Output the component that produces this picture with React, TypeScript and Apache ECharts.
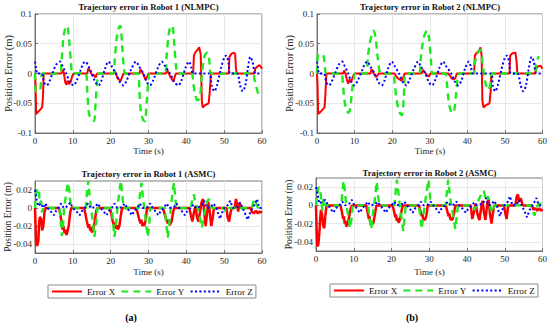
import React, { useEffect, useRef } from "react";
import * as echarts from "echarts";

const FONT = '"Liberation Serif", "Times New Roman", serif';

const seriesNames = ["Error X", "Error Y", "Error Z"];
const panelTitles = [
  "Trajectory error in Robot 1 (NLMPC)",
  "Trajectory error in Robot 2 (NLMPC)",
  "Trajectory error in Robot 1 (ASMC)",
  "Trajectory error in Robot 2 (ASMC)",
];
const timeTicks = [0, 10, 20, 30, 40, 50, 60];
const nlmpcYTicks = [-0.1, -0.05, 0, 0.05, 0.1];
const asmcYTicks = [-0.04, -0.02, 0, 0.02];
const captions = ["(a)", "(b)"];

// Robot 1 NLMPC
const r1nX = [
  [0, 0], [0.15, -0.02], [0.3, -0.068], [0.6, -0.066], [1.2, -0.062], [1.9, -0.057], [2.1, -0.04], [2.3, 0],
  [7, 0], [7.3, 0.006], [7.6, 0.002], [8, -0.015], [8.3, -0.019], [8.6, -0.012], [9, -0.018], [9.4, -0.015], [9.8, -0.005], [10.2, 0],
  [13.8, 0], [14.1, 0.009], [14.5, 0.005], [14.8, 0.001], [15.2, -0.004], [15.6, -0.002], [16, -0.007], [16.4, 0],
  [20.8, 0], [21, 0.004], [21.4, 0], [21.8, -0.008], [22.2, -0.01], [22.6, -0.013], [23, -0.006], [23.4, 0],
  [27.6, 0], [27.9, 0.007], [28.3, 0.003], [28.8, -0.004], [29.2, -0.01], [29.6, -0.006], [30, 0],
  [34.6, 0], [34.9, 0.006], [35.3, 0.001], [35.8, -0.006], [36.2, -0.01], [36.6, -0.013], [37, -0.004], [37.3, 0],
  [41.8, 0], [42, 0.03], [42.4, 0.036], [43, 0.04], [43.4, 0.044], [43.8, 0.032], [44.1, -0.045], [44.3, -0.057], [45, -0.053], [45.9, -0.05], [46.2, -0.03], [46.5, 0],
  [51.2, 0], [51.4, 0.028], [51.9, 0.033], [52.6, 0.035], [52.9, 0.033], [53.1, 0.01], [53.3, 0],
  [58, 0], [58.2, 0.008], [58.8, 0.012], [59.4, 0.014], [59.8, 0.01], [60, 0.008],
];
const r1nY = [
  [0, 0], [0.2, -0.03], [1.2, -0.03], [1.6, -0.015], [2, 0],
  [6.6, 0], [7, 0.02], [7.5, 0.06], [8, 0.076], [8.5, 0.08], [9, 0.058], [9.5, 0.02], [10, 0],
  [13.4, 0], [13.8, -0.03], [14.3, -0.068], [14.9, -0.076], [15.6, -0.08], [16, -0.05], [16.5, -0.01], [16.9, 0],
  [20.6, 0], [21.1, 0.025], [21.6, 0.06], [22.2, 0.078], [22.6, 0.08], [23, 0.05], [23.5, 0.01], [23.9, 0],
  [27.2, 0], [27.6, -0.03], [28, -0.065], [28.6, -0.078], [29.1, -0.08], [29.5, -0.05], [30, -0.01], [30.4, 0],
  [34.3, 0], [34.8, 0.03], [35.3, 0.065], [35.8, 0.078], [36.3, 0.08], [36.8, 0.05], [37.3, 0.01], [37.7, 0],
  [41.3, 0], [41.8, -0.015], [42.4, -0.038], [43, -0.045], [43.6, -0.04], [44, -0.01], [44.5, 0.02], [45, 0.032], [45.6, 0.035], [46.1, 0.02], [46.6, 0],
  [57.6, 0], [58, -0.01], [58.6, -0.025], [59.2, -0.036], [60, -0.038],
];
const r1nZ = [
  [0, 0.02], [0.3, 0.008], [0.6, 0], [1.8, 0], [2.4, -0.015], [3.1, -0.02], [3.7, -0.015], [4.6, 0], [5.6, 0.015], [6.6, 0.02], [7.3, 0.012],
  [8.2, 0], [9.3, -0.015], [10.2, -0.02], [11, -0.012], [12, 0.005], [12.8, 0.017], [13.3, 0.02], [14, 0.014], [15, 0],
  [16, -0.015], [16.8, -0.02], [17.5, -0.013], [18.5, 0.008], [19.4, 0.02], [20.2, 0.013], [21.4, 0], [22.5, -0.015], [23.4, -0.02],
  [24.2, -0.012], [25.5, 0.008], [26.7, 0.02], [27.5, 0.012], [28.6, 0], [29.6, -0.015], [30.4, -0.02], [31.2, -0.012], [32.5, 0.01],
  [33.5, 0.02], [34.3, 0.013], [35.7, 0], [36.9, -0.015], [37.9, -0.02], [38.7, -0.012], [39.8, 0.01], [40.7, 0.02], [41.3, 0.01], [41.8, 0],
  [46, 0], [46.7, -0.02], [47.4, -0.03], [48.1, -0.02], [49.2, 0.01], [50.1, 0.028], [50.6, 0.03], [51.2, 0.015], [51.6, 0],
  [53.4, 0], [54.2, -0.02], [54.9, -0.03], [55.6, -0.02], [56.3, 0.01], [56.9, 0.028], [57.5, 0.02], [58.3, 0], [60, 0],
];

// Robot 2 NLMPC
const r2nX = [
  [0, 0], [0.15, -0.02], [0.3, -0.068], [0.7, -0.066], [1.3, -0.062], [2, -0.057], [2.2, -0.04], [2.5, 0],
  [7, 0], [7.2, 0.005], [7.6, 0], [8, -0.012], [8.3, -0.017], [8.7, -0.01], [9.1, -0.014], [9.5, -0.006], [10, 0],
  [14.2, 0], [14.5, 0.007], [14.9, 0.003], [15.3, -0.002], [15.7, -0.006], [16.1, -0.003], [16.5, 0],
  [20.6, 0], [21, -0.004], [21.5, -0.008], [22, -0.01], [22.5, -0.012], [23, -0.006], [23.3, 0],
  [27.8, 0], [28.2, 0.006], [28.7, 0.002], [29.3, -0.003], [29.8, -0.005], [30.2, 0],
  [35, 0], [35.4, -0.004], [35.8, -0.008], [36.3, -0.01], [36.8, -0.008], [37.2, 0],
  [41.8, 0], [42, 0.03], [42.5, 0.035], [43.1, 0.038], [43.5, 0.044], [43.8, 0.03], [44, -0.045], [44.3, -0.057], [45, -0.053], [45.9, -0.05], [46.2, -0.03], [46.4, 0],
  [51.2, 0], [51.4, 0.03], [52, 0.034], [52.8, 0.035], [53.1, 0.02], [53.3, 0],
  [58, 0], [58.3, 0.008], [58.8, 0.012], [59.5, 0.013], [60, 0.008],
];
const r2nY = [
  [0, 0], [0.2, 0.028], [0.6, 0.032], [1.5, 0.032], [2, 0.02], [2.5, 0],
  [6.4, 0], [6.9, -0.02], [7.3, -0.045], [7.8, -0.06], [8.3, -0.066], [8.8, -0.06], [9.3, -0.03], [9.8, -0.01], [10.2, 0],
  [13, 0], [13.5, 0.025], [14, 0.05], [14.6, 0.065], [15.1, 0.072], [15.6, 0.06], [16.1, 0.03], [16.6, 0.005], [17, 0],
  [20.2, 0], [20.7, -0.02], [21.2, -0.045], [21.7, -0.06], [22.2, -0.068], [22.6, -0.07], [23.1, -0.04], [23.6, 0],
  [27.1, 0], [27.6, 0.025], [28.1, 0.05], [28.7, 0.066], [29.3, 0.072], [29.8, 0.06], [30.3, 0.025], [30.8, 0],
  [34.1, 0], [34.6, -0.02], [35.1, -0.05], [35.6, -0.063], [36, -0.067], [36.5, -0.062], [37, -0.035], [37.5, -0.005], [38, 0],
  [41.5, 0], [42, 0.018], [42.5, 0.03], [43, 0.037], [43.5, 0.04], [44, 0.02], [44.5, -0.005], [45, -0.02], [45.6, -0.028], [46.2, -0.015], [46.8, 0],
  [57.8, 0], [58.3, 0.014], [58.8, 0.026], [59.1, 0.029],
];
const r2nZ = [
  [0, 0.02], [0.3, 0.008], [0.6, 0], [1.8, 0], [2.5, -0.015], [3.2, -0.02], [3.8, -0.015], [4.8, 0], [5.8, 0.015], [6.7, 0.02], [7.4, 0.012],
  [8.3, 0], [9.2, -0.015], [10, -0.02], [10.8, -0.012], [12, 0.005], [12.8, 0.017], [13.4, 0.02], [14.1, 0.013], [15.3, 0],
  [16.4, -0.015], [17.2, -0.02], [17.9, -0.013], [19, 0.01], [19.9, 0.02], [20.6, 0.013], [21.8, 0], [23, -0.016], [23.8, -0.02],
  [24.5, -0.012], [25.8, 0.008], [26.9, 0.02], [27.6, 0.012], [28.8, 0], [29.8, -0.015], [30.6, -0.02], [31.4, -0.012], [32.6, 0.01],
  [33.6, 0.02], [34.3, 0.013], [35.7, 0], [36.8, -0.015], [37.6, -0.02], [38.4, -0.012], [39.5, 0.01], [40.4, 0.02], [41, 0.01], [41.5, 0],
  [46.2, 0], [46.8, -0.02], [47.4, -0.03], [48.1, -0.02], [49.2, 0.01], [50.1, 0.028], [50.6, 0.03], [51.2, 0.015], [51.6, 0],
  [53.3, 0], [54.2, -0.02], [54.9, -0.03], [55.6, -0.02], [56.4, 0.01], [57.1, 0.028], [57.7, 0.02], [58.4, 0], [60, 0],
];

// Robot 1 ASMC
const r1aX = [
  [0, 0], [0.15, -0.02], [0.3, -0.04], [0.6, -0.042], [0.9, -0.036], [1.1, -0.015], [1.3, -0.01], [1.6, -0.012], [1.9, -0.025], [2.2, -0.02], [2.5, -0.005], [2.8, 0],
  [6.3, 0], [6.6, -0.005], [7, -0.015], [7.3, -0.024], [7.5, -0.02], [7.8, -0.028], [8.1, -0.024], [8.3, -0.03], [8.6, -0.026], [8.9, -0.02], [9.3, -0.005], [9.6, 0],
  [13, 0], [13.3, -0.006], [13.7, -0.015], [14.1, -0.022], [14.3, -0.018], [14.6, -0.025], [14.8, -0.021], [15, -0.027], [15.4, -0.024], [15.8, -0.015], [16.2, -0.003], [16.5, 0],
  [19.8, 0], [20.1, -0.005], [20.5, -0.014], [20.9, -0.02], [21.1, -0.016], [21.4, -0.023], [21.7, -0.019], [21.9, -0.024], [22.3, -0.02], [22.7, -0.008], [23, 0],
  [26.8, 0], [27.1, -0.005], [27.5, -0.012], [27.9, -0.017], [28.1, -0.013], [28.4, -0.02], [28.7, -0.016], [28.9, -0.02], [29.3, -0.012], [29.6, 0],
  [33.8, 0], [34.1, -0.004], [34.6, -0.012], [35.1, -0.017], [35.3, -0.013], [35.6, -0.019], [36.1, -0.015], [36.5, -0.005], [36.8, 0],
  [40.8, 0], [41.2, -0.008], [41.6, -0.015], [42, -0.005], [42.4, 0.002], [42.8, -0.01], [43.2, -0.015], [43.6, -0.005], [44, 0.006], [44.4, 0.01], [44.8, -0.008], [45.1, -0.02], [45.5, -0.005], [45.8, 0.007], [46.2, -0.005], [46.6, -0.02], [47, -0.01], [47.3, 0],
  [50.6, 0], [50.9, -0.01], [51.3, -0.015], [51.7, -0.005], [52, 0],
  [52.8, 0], [53.1, 0.01], [53.4, 0.005], [53.7, -0.004], [54.1, 0.006], [54.5, 0],
  [57, 0], [57.3, -0.004], [57.8, -0.006], [58.4, -0.003], [58.9, -0.006], [59.4, -0.004], [60, -0.005],
];
const r1aY = [
  [0, 0], [0.3, 0.015], [0.6, 0.022], [1, 0.02], [1.3, 0.005], [1.6, 0.008], [1.9, -0.005], [2.2, 0],
  [6.5, 0], [6.8, -0.015], [7.1, -0.031], [7.4, -0.02], [7.7, 0], [8.2, 0.015], [8.7, 0.028], [9.1, 0.018], [9.5, 0],
  [13.4, 0], [13.8, 0.02], [14.1, 0.03], [14.4, 0.015], [14.8, 0], [15.3, -0.015], [15.7, -0.032], [16.1, -0.02], [16.5, 0],
  [20.3, 0], [20.7, -0.02], [21, -0.032], [21.4, -0.018], [21.8, 0], [22.3, 0.018], [22.7, 0.03], [23, 0.018], [23.4, 0],
  [27.4, 0], [27.8, 0.018], [28.2, 0.028], [28.5, 0.012], [28.9, 0], [29.4, -0.018], [29.8, -0.032], [30.2, -0.018], [30.5, 0],
  [34.3, 0], [34.7, -0.018], [35.1, -0.033], [35.5, -0.016], [35.9, 0], [36.3, 0.015], [36.7, 0.028], [37, 0.015], [37.3, 0],
  [41.2, 0], [41.6, 0.01], [42, 0.015], [42.4, 0.005], [43, 0], [43.6, -0.012], [44.1, -0.022], [44.6, -0.01], [45.1, 0], [45.6, 0.008], [46, 0.01], [46.4, 0.003], [46.8, 0],
  [50, 0], [50.4, -0.004], [50.8, 0],
  [57.3, 0], [57.8, 0.008], [58.2, 0.01], [58.6, 0.003], [59, 0], [60, 0],
];
const r1aZ = [
  [0, 0.02], [0.4, 0.01], [0.9, 0.002], [1.5, 0.005], [2.2, 0], [2.8, 0.005], [3.3, 0], [4.2, -0.004], [5, -0.008], [5.6, -0.003], [6.2, 0],
  [6.9, 0.005], [7.6, 0], [8.6, 0.002], [9.3, 0.006], [10, 0], [11, -0.004], [11.8, -0.008], [12.5, -0.003], [13.2, 0], [14, 0.005], [14.7, 0],
  [15.9, 0.001], [16.6, 0.005], [17.3, 0], [18.2, -0.004], [18.9, -0.008], [19.6, -0.003], [20.3, 0], [21, 0.005], [21.7, 0],
  [23, 0.001], [23.7, 0.005], [24.4, 0], [25, -0.004], [25.6, -0.008], [26.3, -0.003], [27, 0], [27.7, 0.005], [28.4, 0],
  [29.7, 0.001], [30.4, 0.005], [31.1, 0], [31.9, -0.004], [32.6, -0.008], [33.3, -0.003], [34, 0], [34.8, 0.005], [35.5, 0],
  [36.7, 0.001], [37.4, 0.005], [38.1, 0], [38.9, -0.004], [39.6, -0.008], [40.3, -0.003], [41.1, 0], [41.9, 0.004], [42.6, 0],
  [43.9, 0.002], [44.7, 0.008], [45.4, 0], [46.5, 0.001], [47.2, 0.005], [47.9, 0], [48.4, -0.006], [48.9, -0.012], [49.4, -0.006], [50, 0],
  [50.9, 0.003], [51.6, 0.008], [52.3, 0], [53.5, 0.001], [54.2, 0.006], [54.9, 0], [55.6, -0.007], [56.2, -0.013], [56.8, -0.006], [57.5, 0],
  [58.2, 0.005], [58.7, 0.01], [59.3, 0], [60, 0],
];

// Robot 2 ASMC
const r2aX = [
  [0, 0], [0.15, -0.025], [0.35, -0.045], [0.6, -0.043], [0.9, -0.03], [1.1, -0.015], [1.3, -0.005], [1.6, -0.01], [1.9, -0.022], [2.2, -0.025], [2.5, -0.01], [2.8, 0],
  [6.5, 0], [6.8, -0.006], [7.2, -0.015], [7.4, -0.012], [7.6, -0.02], [7.8, -0.017], [8, -0.023], [8.4, -0.021], [8.8, -0.012], [9.2, -0.003], [9.5, 0],
  [13.3, 0], [13.6, -0.006], [14, -0.015], [14.2, -0.012], [14.4, -0.02], [14.6, -0.017], [14.8, -0.021], [15.2, -0.019], [15.6, -0.01], [16, 0],
  [20.3, 0], [20.6, -0.005], [21, -0.013], [21.2, -0.01], [21.4, -0.017], [21.6, -0.014], [21.9, -0.019], [22.3, -0.015], [22.7, -0.005], [23, 0],
  [27.3, 0], [27.6, -0.005], [28, -0.012], [28.2, -0.009], [28.4, -0.015], [28.9, -0.016], [29.3, -0.01], [29.6, 0],
  [34.4, 0], [34.7, -0.005], [35.1, -0.012], [35.3, -0.009], [35.6, -0.015], [36.1, -0.016], [36.5, -0.01], [36.9, 0],
  [41, 0], [41.4, -0.015], [41.8, -0.008], [42.3, 0.002], [42.8, -0.01], [43.3, -0.016], [43.7, -0.004], [44.1, 0.005], [44.5, -0.008], [44.9, -0.016], [45.3, 0], [45.7, 0.008], [46.1, -0.01], [46.5, -0.02], [46.9, -0.008], [47.2, 0],
  [49.8, 0], [50.1, -0.008], [50.5, -0.015], [50.8, -0.003], [51.1, 0],
  [52.8, 0], [53.2, 0.01], [53.5, 0.012], [53.8, 0.004], [54.2, 0.008], [54.8, 0],
  [57.2, 0], [57.6, -0.005], [58.1, -0.003], [58.6, -0.006], [59.1, -0.003], [59.6, -0.006], [60, -0.004],
];
const r2aY = [
  [0, 0], [0.3, 0.012], [0.7, 0.02], [1.1, 0.018], [1.4, 0.005], [1.7, -0.006], [2, 0.008], [2.3, 0],
  [6.7, 0], [7, 0.015], [7.3, 0.027], [7.6, 0.018], [8, 0], [8.6, -0.012], [9, -0.025], [9.4, -0.015], [9.7, 0],
  [13.8, 0], [14.2, -0.015], [14.6, -0.026], [15, -0.012], [15.4, 0], [15.8, 0.015], [16.1, 0.026], [16.4, 0.012], [16.8, 0],
  [20.8, 0], [21.1, 0.015], [21.4, 0.028], [21.8, 0.015], [22.2, 0], [22.7, -0.015], [23.1, -0.028], [23.5, -0.012], [23.8, 0],
  [27.3, 0], [27.6, -0.012], [28, -0.026], [28.4, -0.012], [28.8, 0], [29.3, 0.015], [29.8, 0.028], [30.1, 0.015], [30.4, 0],
  [34.3, 0], [34.7, 0.015], [35, 0.028], [35.4, 0.014], [35.8, 0], [36.4, -0.012], [36.9, -0.026], [37.3, -0.012], [37.6, 0],
  [41.5, 0], [42, -0.005], [42.5, 0], [43.3, 0.008], [44, 0.014], [44.5, 0.016], [45, 0.005], [45.5, 0.01], [45.9, 0.004], [46.4, -0.005], [46.8, -0.008], [47.2, 0],
  [57, 0], [57.5, -0.008], [57.9, -0.011], [58.3, -0.004], [58.7, 0], [59.3, 0.002], [60, 0],
];
const r2aZ = [
  [0, 0.02], [0.4, 0.012], [0.9, 0.002], [1.6, 0.004], [2.5, 0.006], [3.2, 0], [3.9, -0.004], [4.6, -0.008], [5.3, -0.003], [6.2, 0],
  [7, 0.004], [7.7, 0], [8.8, 0.002], [9.5, 0.006], [10.2, 0], [10.9, -0.004], [11.6, -0.008], [12.3, -0.003], [13, 0], [13.7, 0.004], [14.4, 0],
  [15.6, 0.001], [16.3, 0.004], [17, 0], [17.8, -0.004], [18.5, -0.008], [19.2, -0.003], [20, 0], [20.7, 0.004], [21.4, 0],
  [22.7, 0.001], [23.4, 0.004], [24.1, 0], [24.9, -0.004], [25.6, -0.008], [26.3, -0.003], [27.1, 0], [27.8, 0.004], [28.5, 0],
  [29.7, 0.001], [30.4, 0.004], [31.1, 0], [31.9, -0.004], [32.6, -0.008], [33.3, -0.003], [34.2, 0], [34.9, 0.004], [35.6, 0],
  [36.5, 0.001], [37.2, 0.004], [37.9, 0], [38.9, -0.004], [39.7, -0.008], [40.4, -0.003], [41.2, 0], [41.9, 0.003], [42.6, 0],
  [44.2, 0.002], [45, 0.008], [45.7, 0], [46.5, 0.001], [47.2, 0.005], [47.9, 0], [48.3, -0.006], [48.7, -0.012], [49.2, -0.006], [49.9, 0],
  [50.8, 0.004], [51.4, 0.01], [52, 0], [53.2, 0.001], [53.8, 0.006], [54.5, 0], [55.3, -0.007], [55.9, -0.013], [56.5, -0.006], [57.3, 0],
  [57.9, 0.004], [58.4, 0.008], [59, 0], [60, 0],
];

const panelData = [
  [r1nX, r1nY, r1nZ],
  [r2nX, r2nY, r2nZ],
  [r1aX, r1aY, r1aZ],
  [r2aX, r2aY, r2aZ],
];

const COLORS = ["#ff0000", "#1ee81e", "#0000ff"];

export default function App() {
  const ref = useRef<HTMLDivElement>(null);
  useEffect(() => {
    if (!ref.current) return;
    const chart = echarts.init(ref.current, null, { renderer: "svg" });

    const layouts = [
      { left: 35, top: 14, width: 227, height: 119, titleY: 7, timeY: 151, nameX: 8, nameSize: 10.5 },
      { left: 317, top: 14, width: 226, height: 119, titleY: 7, timeY: 151, nameX: 289, nameSize: 10.5 },
      { left: 35, top: 181, width: 227, height: 72, titleY: 174, timeY: 272, nameX: 8, nameSize: 9.5 },
      { left: 316, top: 178, width: 227, height: 73, titleY: 172.5, timeY: 272, nameX: 289, nameSize: 9.5 },
    ];

    const axisColor = "#595959";
    const grids = layouts.map((l) => ({
      left: l.left, top: l.top, width: l.width, height: l.height,
      show: true, borderColor: axisColor, borderWidth: 0.8, backgroundColor: "#fff",
      containLabel: false,
    }));

    const xAxes = layouts.map((l, i) => ({
      type: "value", gridIndex: i, min: 0, max: 60, interval: 10,
      axisLine: { show: true, onZero: false, lineStyle: { color: axisColor, width: 0.8 } },
      axisTick: { show: true, inside: true, length: 3, lineStyle: { color: axisColor, width: 0.8 } },
      splitLine: { show: true, lineStyle: { color: "#e3e3e3", width: 0.8 } },
      axisLabel: {
        color: "#262626", fontFamily: FONT, fontSize: 9, margin: 3,
        customValues: timeTicks, showMinLabel: true, showMaxLabel: true,
      },
    }));

    const yAxes = layouts.map((l, i) => {
      const top = i < 2;
      const ticks = top ? nlmpcYTicks : asmcYTicks;
      return {
        type: "value", gridIndex: i,
        min: top ? -0.1 : -0.05, max: top ? 0.1 : 0.03,
        interval: top ? 0.05 : 0.01,
        axisLine: { show: true, onZero: false, lineStyle: { color: axisColor, width: 0.8 } },
        axisTick: { show: true, inside: true, length: 3, customValues: ticks, lineStyle: { color: axisColor, width: 0.8 } },
        splitLine: { show: true, lineStyle: { color: "#e3e3e3", width: 0.8 } },
        axisLabel: {
          color: "#262626", fontFamily: FONT, fontSize: 9, margin: 3,
          customValues: ticks,
          formatter: (v: number) => String(Math.round(v * 1000) / 1000),
        },
      };
    });

    const series: any[] = [];
    panelData.forEach((arrs, i) => {
      arrs.forEach((d, k) => {
        const topPanel = i < 2;
        const lineStyle: any =
          k === 0
            ? { color: COLORS[0], width: topPanel ? 2 : 2.5, type: "solid" }
            : k === 1
            ? { color: COLORS[1], width: 2.4, type: [7, 5] }
            : { color: COLORS[2], width: 2, type: [2, 2.4] };
        series.push({
          type: "line",
          name: seriesNames[k],
          xAxisIndex: i,
          yAxisIndex: i,
          data: d,
          showSymbol: false,
          symbol: "none",
          smooth: topPanel && k > 0 ? 0.3 : false,
          lineStyle,
          itemStyle: { color: COLORS[k] },
          z: 2 + k,
          silent: true,
        });
      });
    });

    const legendBase = {
      data: seriesNames,
      orient: "horizontal",
      itemWidth: 30,
      itemHeight: 8,
      itemGap: 5,
      padding: [2, 3],
      borderColor: "#8a8a8a",
      borderWidth: 1,
      backgroundColor: "#fff",
      selectedMode: false,
      itemStyle: { opacity: 0 },
      lineStyle: { width: 2 },
      textStyle: { fontFamily: FONT, fontSize: 9.2, color: "#111" },
    };

    const graphics: any[] = [];
    layouts.forEach((l, i) => {
      const cx = l.left + l.width / 2;
      graphics.push({
        type: "text", x: cx, y: l.titleY,
        style: { text: panelTitles[i], font: `bold 8.6px ${FONT}`, fill: "#111", align: "center", verticalAlign: "middle" },
      });
      graphics.push({
        type: "text", x: cx, y: l.timeY,
        style: { text: "Time (s)", font: `9px ${FONT}`, fill: "#262626", align: "center", verticalAlign: "middle" },
      });
      graphics.push({
        type: "text", x: l.nameX, y: l.top + l.height / 2, rotation: Math.PI / 2,
        style: { text: "Position Error (m)", font: `${l.nameSize}px ${FONT}`, fill: "#262626", align: "center", verticalAlign: "middle" },
      });
    });
    graphics.push({
      type: "text", x: 131, y: 317,
      style: { text: captions[0], font: `bold 10px ${FONT}`, fill: "#000", align: "center", verticalAlign: "middle" },
    });
    graphics.push({
      type: "text", x: 412, y: 317,
      style: { text: captions[1], font: `bold 10px ${FONT}`, fill: "#000", align: "center", verticalAlign: "middle" },
    });

    chart.setOption({
      animation: false,
      backgroundColor: "#fff",
      grid: grids,
      xAxis: xAxes,
      yAxis: yAxes,
      series,
      legend: [
        { ...legendBase, left: 48, top: 285 },
        { ...legendBase, left: 330, top: 284 },
      ],
      graphic: graphics,
    });
    return () => chart.dispose();
  }, []);

  return (
    <div
      ref={ref}
      style={{ position: "fixed", left: 0, top: 0, width: 550, height: 326, background: "#fff" }}
    />
  );
}
